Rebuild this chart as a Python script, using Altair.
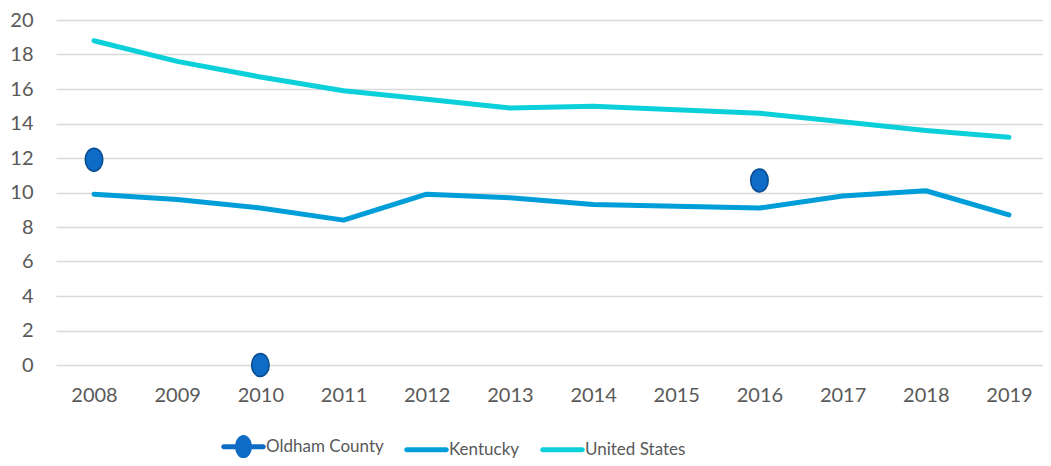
import altair as alt
import pandas as pd

years = list(range(2008, 2020))
kentucky = [9.9, 9.6, 9.1, 8.4, 9.9, 9.7, 9.3, 9.2, 9.1, 9.8, 10.1, 8.7]
united_states = [18.8, 17.6, 16.7, 15.9, 15.4, 14.9, 15.0, 14.8, 14.6, 14.1, 13.6, 13.2]
oldham_years = [2008, 2010, 2016]
oldham_values = [11.9, 0.0, 10.7]

series_names = ["Oldham County", "Kentucky", "United States"]
series_colors = ["#0f6cc6", "#009ed8", "#0bd0d9"]
y_ticks = list(range(0, 21, 2))

lines_df = pd.DataFrame({
    "year": years + years,
    "value": kentucky + united_states,
    "series": ["Kentucky"] * len(years) + ["United States"] * len(years),
})
old_df = pd.DataFrame({
    "year": oldham_years,
    "value": oldham_values,
    "series": ["Oldham County"] * len(oldham_years),
})
all_df = pd.concat([old_df, lines_df], ignore_index=True)

FONT = "Lato"
GRAY = "#595959"

ellipse = "M0,-1A0.76,1,0,1,1,0,1A0.76,1,0,1,1,0,-1Z"
bar = "M-0.94,-0.12H0.94A0.12,0.12,0,0,1,0.94,0.12H-0.94A0.12,0.12,0,0,1,-0.94,-0.12Z"
leg_old = bar + " M0,-0.55A0.4,0.55,0,1,1,0,0.55A0.4,0.55,0,1,1,0,-0.55Z"
leg_line = bar

x_enc = alt.X(
    "year:Q",
    scale=alt.Scale(domain=[2007.543, 2019.409], nice=False, zero=False),
    axis=alt.Axis(values=years, format="d", grid=False, domain=False, ticks=False,
                  labelPadding=20, labelFont=FONT, labelFontSize=20, labelColor=GRAY,
                  labelFlush=False, title=None),
)
y_enc = alt.Y(
    "value:Q",
    scale=alt.Scale(domain=[0, 20], nice=False),
    axis=alt.Axis(values=y_ticks, grid=True, gridColor="#d9d9d9", gridWidth=1.4,
                  domain=False, ticks=False, labelPadding=23, labelFont=FONT,
                  labelFontSize=20, labelColor=GRAY, title=None),
)

lines = alt.Chart(lines_df).mark_line(strokeWidth=5, strokeCap="round", strokeJoin="round").encode(
    x=x_enc,
    y=y_enc,
    color=alt.Color("series:N", scale=alt.Scale(domain=series_names[1:], range=series_colors[1:]), legend=None),
)

points = alt.Chart(old_df).mark_point(
    shape=ellipse, filled=True, opacity=1, fill="#0f6cc6",
    stroke="#0a4c90", strokeWidth=1.6, size=529,
).encode(x=x_enc, y=y_enc)

stroke_sig = ("datum.value === 'Oldham County' ? '#0a4c90' : "
              "(datum.value === 'Kentucky' ? '#009ed8' : '#0bd0d9')")
width_sig = "datum.value === 'Oldham County' ? 1.3 : 0.5"

leg = alt.Legend(
    title=None, orient="none", direction="horizontal",
    legendX=179, legendY=418, padding=0,
    labelFont=FONT, labelFontSize=17, labelColor=GRAY,
    labelOffset=14, columnPadding=19, symbolSize=1764,
    symbolStrokeWidth={"expr": width_sig},
    symbolStrokeColor={"expr": stroke_sig},
    symbolOpacity=1,
)

legend_layer = alt.Chart(all_df).mark_point(filled=True, opacity=0, size=1764).encode(
    x=x_enc,
    y=y_enc,
    color=alt.Color("series:N", scale=alt.Scale(domain=series_names, range=series_colors), legend=leg),
    shape=alt.Shape("series:N", scale=alt.Scale(domain=series_names, range=[leg_old, leg_line, leg_line]), legend=leg),
)

chart = alt.layer(lines, legend_layer, points).resolve_scale(
    color="independent", shape="independent"
).properties(
    width=987, height=345,
    padding={"left": 48, "top": 12, "right": 0, "bottom": 93},
    autosize=alt.AutoSizeParams(type="none"),
).configure_view(stroke=None)

chart.save("out.html", embed_options={"renderer": "svg", "actions": False})
